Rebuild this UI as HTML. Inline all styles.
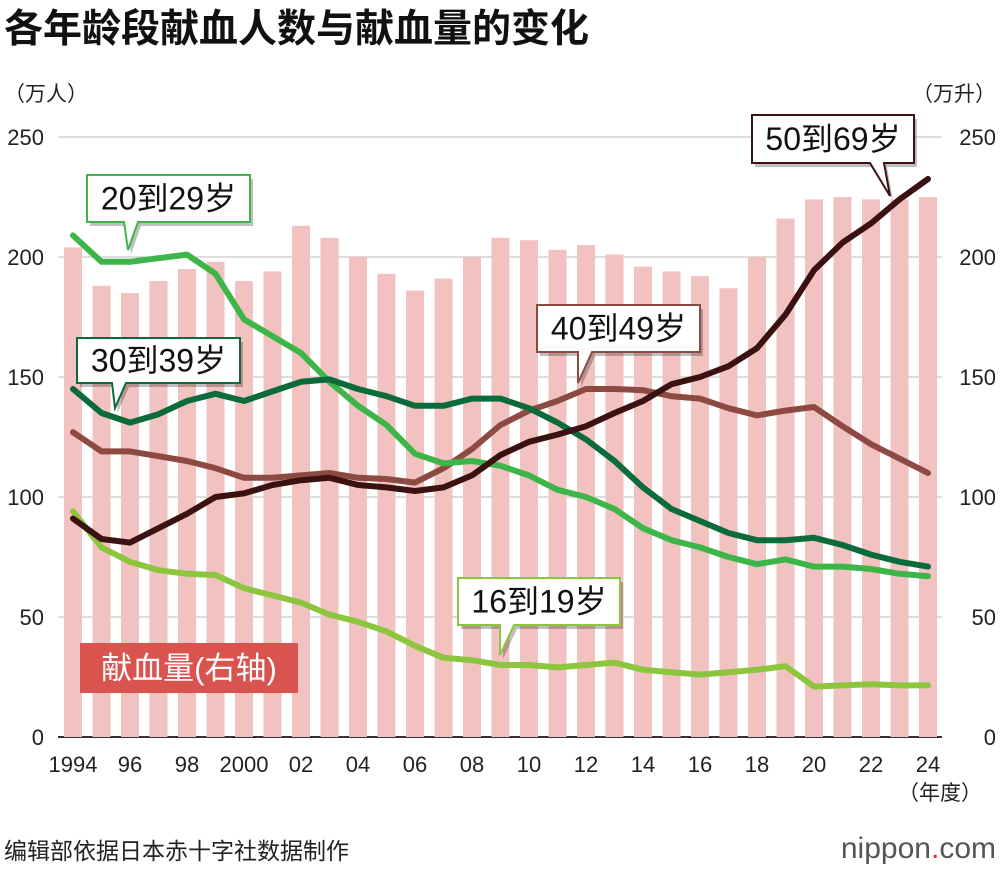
<!DOCTYPE html>
<html><head><meta charset="utf-8">
<style>
body{margin:0;background:#fff;width:1000px;height:870px;overflow:hidden;font-family:"Liberation Sans","Noto Sans CJK SC",sans-serif;}
svg text{font-family:"Liberation Sans","Noto Sans CJK SC",sans-serif;}
</style></head><body>
<svg id="chart" width="1000" height="870">
<text x="4" y="42" font-size="39" font-weight="bold" fill="#111">各年龄段献血人数与献血量的变化</text>
<text x="4" y="101" font-size="21" fill="#222">（万人）</text>
<text x="996" y="101" font-size="21" fill="#222" text-anchor="end">（万升）</text>
<g id="grid"></g><g id="bars"></g><g id="lines"></g><g id="labels"></g><g id="callouts"></g>
<text x="940" y="800" font-size="21" fill="#222" text-anchor="middle">（年度）</text>
<text x="4" y="859" font-size="23" fill="#222">编辑部依据日本赤十字社数据制作</text>
<text x="996" y="858" font-size="30" fill="#555" text-anchor="end">nippon<tspan fill="#d9302c">.</tspan>com</text>
</svg>
<script>
const years=[1994,1995,1996,1997,1998,1999,2000,2001,2002,2003,2004,2005,2006,2007,2008,2009,2010,2011,2012,2013,2014,2015,2016,2017,2018,2019,2020,2021,2022,2023,2024];
const volume=[204,188,185,190,195,198,190,194,213,208,200,193,186,191,200,208,207,203,205,201,196,194,192,187,200,216,224,225,224,224,225];
const age16to19=[94,79,73,69.5,68,67.5,62,59,56,51,48,44,38,33,32,30,30,29,30,31,28,27,26,27,28,29.5,21,21.5,22,21.5,21.5];
const age20to29=[209,198,198,199.5,201,193,174,167,160,148,138,130,118,114,115,113,109,103,100,95,87,82,79,75,72,74,71,71,70,68,67];
const age30to39=[145,135,131,134.5,140,143,140,144,148,149,145,142,138,138,141,141,137,131,124,115,104,95,90,85,82,82,83,80,76,73,71];
const age40to49=[127,119,119,117,115,112,108,108,109,110,108,107.5,106,112,120,130,136,140,145,145,144.5,142,141,137,134,136,137.5,129.5,122,116,110];
const age50to69=[91,82.5,81,87,93,100,101.5,105,107,108,105,104,102.5,104,109,117.5,123,126,129.5,135,140,147,150,154.5,162,176,194.5,206,214,224,232.5];
const yTicks=[0,50,100,150,200,250];
const xTickYears=[1994,1996,1998,2000,2002,2004,2006,2008,2010,2012,2014,2016,2018,2020,2022,2024];
const xTickLabels=["1994","96","98","2000","02","04","06","08","10","12","14","16","18","20","22","24"];
const NS="http://www.w3.org/2000/svg";
const X=y=>73+(y-1994)*28.5;
const Y=v=>737-v*2.4;
function mk(tag,attrs,parent){const e=document.createElementNS(NS,tag);for(const k in attrs)e.setAttribute(k,attrs[k]);document.getElementById(parent).appendChild(e);return e;}
yTicks.forEach(t=>{
 const l=mk('line',{x1:58,x2:942,y1:Y(t),y2:Y(t),stroke:t===0?'#333':'#bbb','stroke-width':t===0?2:1},'grid');
 
 
 const a=mk('text',{x:44,y:Y(t)+8,'font-size':22,'text-anchor':'end',fill:'#222'},'labels');a.textContent=t;
 
 
 const b=mk('text',{x:996,y:Y(t)+8,'font-size':22,'text-anchor':'end',fill:'#222'},'labels');b.textContent=t;
 
 
});
xTickYears.forEach((yr,i)=>{
 const t=mk('text',{x:X(yr),y:772,'font-size':22,'text-anchor':'middle',fill:'#222'},'labels');t.textContent=xTickLabels[i];
 
 
});
years.forEach((yr,i)=>{
 const r=mk('rect',{x:X(yr)-9,y:Y(volume[i]),width:18,height:volume[i]*2.4,fill:'#f2c2c0'},'bars');
 
 
});
const series=[[age40to49,'#8d4a43','line-40-49'],[age16to19,'#8cc63f','line-16-19'],[age20to29,'#3eb549','line-20-29'],[age30to39,'#0b6b3a','line-30-39'],[age50to69,'#3b1212','line-50-69']];
series.forEach(([d,c,n])=>{
 const p=mk('polyline',{points:d.map((v,i)=>X(years[i])+','+Y(v)).join(' '),fill:'none',stroke:c,'stroke-width':6,'stroke-linejoin':'round','stroke-linecap':'round'},'lines');
 
 
});
function callout(x,y,w,h,px,py,bx,text,col,name){
 const g=mk('g',{},'callouts');
 
 
 const path=`M${x},${y} H${x+w} V${y+h} H${bx+14} L${px},${py} L${bx},${y+h} H${x} Z`;
 const s=document.createElementNS(NS,'path');s.setAttribute('d',path);s.setAttribute('fill','#000');s.setAttribute('opacity','0.25');s.setAttribute('transform','translate(3,4)');g.appendChild(s);
 const p=document.createElementNS(NS,'path');p.setAttribute('d',path);p.setAttribute('fill','#fff');p.setAttribute('stroke',col);p.setAttribute('stroke-width','2');g.appendChild(p);
 const t=document.createElementNS(NS,'text');t.setAttribute('x',x+w/2);t.setAttribute('y',y+h/2+11);t.setAttribute('font-size','32');t.setAttribute('text-anchor','middle');t.setAttribute('fill','#111');t.textContent=text;g.appendChild(t);
}
callout(87,175,163,47,128,250,124,'20到29岁','#3eb549','callout-20-29');
callout(77,338,163,45,115,408,112,'30到39岁','#0b6b3a','callout-30-39');
callout(537,305,163,47,578,383,578,'40到49岁','#8d4a43','callout-40-49');
callout(752,115,162,48,890,196,870,'50到69岁','#3b1212','callout-50-69');
callout(458,578,162,47,500,655,500,'16到19岁','#8cc63f','callout-16-19');
const lg=mk('g',{},'callouts');


const lr=document.createElementNS(NS,'rect');lr.setAttribute('x',80);lr.setAttribute('y',643);lr.setAttribute('width',218);lr.setAttribute('height',50);lr.setAttribute('fill','#d9534f');lg.appendChild(lr);
const lt=document.createElementNS(NS,'text');lt.setAttribute('x',189);lt.setAttribute('y',679);lt.setAttribute('font-size','31');lt.setAttribute('text-anchor','middle');lt.setAttribute('fill','#fff');lt.textContent='献血量(右轴)';lg.appendChild(lt);
</script>
</body></html>
